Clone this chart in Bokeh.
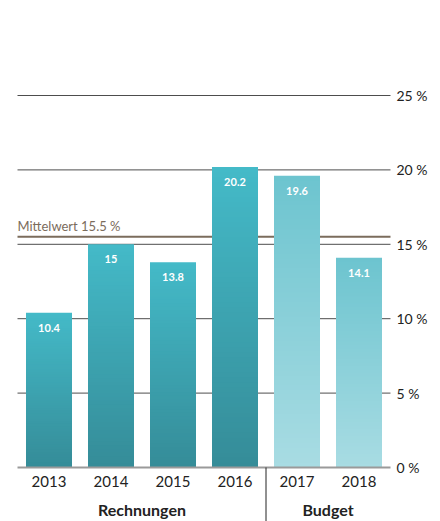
from bokeh.plotting import figure
from bokeh.models import Range1d
from bokeh.core.properties import value
from bokeh.embed import file_html
from bokeh.resources import INLINE

years = ["2013", "2014", "2015", "2016", "2017", "2018"]
values = [10.4, 15, 13.8, 20.2, 19.6, 14.1]
labels = ["10.4", "15", "13.8", "20.2", "19.6", "14.1"]
budget = [False, False, False, False, True, True]
groups = ["Rechnungen", "Budget"]
mean_value = 15.5
mean_label = "Mittelwert 15.5 %"
yticks = [0, 5, 10, 15, 20, 25]
ytick_labels = ["0 %", "5 %", "10 %", "15 %", "20 %", "25 %"]

FONT = value("Lato")
W, H = 440, 521
px_x = 62.0
x0_px = 48.5
px_y = (467 - 95) / 25.0
y0_px = 467

p = figure(width=W, height=H, output_backend="svg", toolbar_location=None,
           x_range=Range1d(-x0_px / px_x, (W - x0_px) / px_x),
           y_range=Range1d(-(H - y0_px) / px_y, y0_px / px_y),
           min_border=0, min_border_left=0, min_border_right=0,
           min_border_top=0, min_border_bottom=0)
p.axis.visible = False
p.grid.visible = False
p.outline_line_color = None
p.background_fill_color = "white"

gl_left, gl_right = -0.508, len(years) - 1 + 0.508

# gridlines
gt = [t for t in yticks if t != 0]
p.segment(x0=[gl_left] * len(gt), x1=[gl_right] * len(gt), y0=gt, y1=gt,
          line_color="#4d4d4d", line_width=1)

# mean line (behind bars)
p.segment(x0=[gl_left], x1=[gl_right], y0=[mean_value], y1=[mean_value],
          line_color="#7b6c5c", line_width=2)
p.text(x=[gl_left], y=[mean_value], text=[mean_label], text_font=FONT,
       text_font_size="13px", text_color="#7b6c5c", text_baseline="bottom",
       text_align="left", y_offset=-3)


def hex2rgb(h):
    h = h.lstrip("#")
    return tuple(int(h[i:i + 2], 16) for i in (0, 2, 4))


def mix(a, b, t):
    a, b = hex2rgb(a), hex2rgb(b)
    return "#%02x%02x%02x" % tuple(int(round(a[i] + (b[i] - a[i]) * t)) for i in range(3))


# gradient bars (bottom color -> top color)
bw = 46 / px_x
N = 60
ov = 1.5 / px_y
L, R, B, T, C = [], [], [], [], []
for i, (v, bud) in enumerate(zip(values, budget)):
    bot, top = ("#a9dce3", "#6cc4cf") if bud else ("#358c98", "#44bac8")
    for k in range(N):
        L.append(i - bw / 2)
        R.append(i + bw / 2)
        B.append(v * k / N)
        T.append(min(v, v * (k + 1) / N + ov))
        C.append(mix(bot, top, (k + 0.5) / N))
p.quad(left=L, right=R, bottom=B, top=T, fill_color=C, line_color=None)

# zero baseline
p.segment(x0=[gl_left], x1=[gl_right], y0=[0], y1=[0], line_color="#9a9a9a", line_width=2)

# value labels
p.text(x=list(range(len(years))), y=values, text=labels, text_font=FONT,
       text_font_size="11px", text_font_style="bold", text_color="white",
       text_align="center", text_baseline="middle", y_offset=15)

# y tick labels (right)
p.text(x=[gl_right] * len(yticks), y=yticks, text=ytick_labels, text_font=FONT,
       text_font_size="14px", text_color="#222222", text_align="left",
       text_baseline="middle", x_offset=6)

# year labels
p.text(x=list(range(len(years))), y=[0] * len(years), text=years, text_font=FONT,
       text_font_size="15px", text_color="#222222", text_align="center",
       text_baseline="middle", y_offset=14)

# group labels
n_r = budget.count(False)
n_b = budget.count(True)
gx = [(n_r - 1) / 2.0, n_r + (n_b - 1) / 2.0]
p.text(x=gx, y=[0, 0], text=groups, text_font=FONT, text_font_size="16px",
       text_font_style="bold", text_color="#222222", text_align="center",
       text_baseline="middle", y_offset=42)

# divider
p.segment(x0=[n_r - 0.5], x1=[n_r - 0.5], y0=[0], y1=[-10], line_color="#222222", line_width=1)

open("out.html", "w").write(file_html(p, INLINE))
